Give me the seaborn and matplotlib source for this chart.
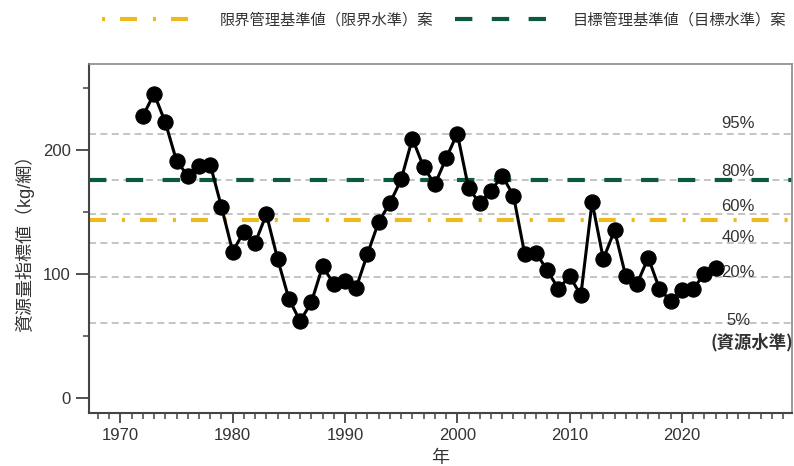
import numpy as np
import pandas as pd
import matplotlib.pyplot as plt
from matplotlib.lines import Line2D
from matplotlib.ticker import MultipleLocator
import seaborn as sns

years = list(range(1972, 2024))
index_values = [227, 245, 222, 191, 179, 187, 188, 154, 118, 134,
                125, 148, 112, 80, 62, 77, 106, 92, 94, 89,
                116, 142, 157, 176, 209, 186, 172, 193, 213, 169,
                157, 167, 179, 163, 116, 117, 103, 88, 98, 83,
                158, 112, 135, 98, 92, 113, 88, 78, 87, 88,
                100, 105]

pct_labels = ['95%', '80%', '60%', '40%', '20%', '5%']
pct_levels = [212.6, 175.3, 148.1, 124.7, 97.3, 60.2]
limit_level = 143.0
target_level = 175.3
limit_label = '限界管理基準値（限界水準）案'
target_label = '目標管理基準値（目標水準）案'

YELLOW = '#EDB91C'
GREEN = '#0B5A3F'
GRAY_TXT = '#333333'

sns.set_theme(style='white')
plt.rcParams['font.family'] = ['Liberation Sans', 'Noto Sans CJK JP', 'DejaVu Sans']
plt.rcParams['lines.scale_dashes'] = False

df = pd.DataFrame({'year': years, 'value': index_values})

fig = plt.figure(figsize=(7.94, 4.66), dpi=100)
ax = fig.add_axes([0.112, 0.1137, 0.8855, 0.749])

for lv in pct_levels:
    ax.axhline(lv, color='#C4C4C4', lw=1.4, dashes=(5, 3.2), zorder=1)
ax.axhline(limit_level, color=YELLOW, lw=3, dashes=(12.2, 11.5, 2.2, 10.8), zorder=2)
ax.axhline(target_level, color=GREEN, lw=3, dashes=(12.5, 14), zorder=2)

sns.lineplot(data=df, x='year', y='value', ax=ax, color='black', lw=2.2,
             marker='o', markersize=11, markeredgecolor='black', zorder=3)

for lab, lv in zip(pct_labels, pct_levels):
    ax.text(2025, lv * 1.04, lab, ha='center', va='center', fontsize=12, color=GRAY_TXT)
ax.text(2026.2, 44.6, '(資源水準)', ha='center', va='center', fontsize=12.5,
        fontweight='bold', color=GRAY_TXT, family=['Noto Sans CJK JP', 'DejaVu Sans'])

ax.set_xlim(1967.2, 2029.8)
ax.set_ylim(-12, 269)
ax.set_yticks([0, 100, 200])
ax.yaxis.set_minor_locator(MultipleLocator(50))
ax.set_xticks(range(1970, 2030, 10))
ax.xaxis.set_minor_locator(MultipleLocator(1))
ax.tick_params(axis='both', which='major', labelsize=12, labelcolor=GRAY_TXT,
               color='#444444', width=1.3, direction='out')
ax.tick_params(axis='y', which='major', length=9.5, left=True)
ax.tick_params(axis='x', which='major', length=7.5, bottom=True)
ax.tick_params(axis='both', which='minor', length=4, width=1.1, color='#444444',
               left=True, bottom=True)

for side in ['left', 'bottom']:
    ax.spines[side].set_color('#444444')
    ax.spines[side].set_linewidth(1.5)
for side in ['top', 'right']:
    ax.spines[side].set_color('#8A8A8A')
    ax.spines[side].set_linewidth(1.2)

ax.set_xlabel('年', fontsize=13, color=GRAY_TXT, labelpad=5)
ax.set_ylabel('資源量指標値（kg/網）', fontsize=13, color=GRAY_TXT, labelpad=6)

handles = [Line2D([], [], color=YELLOW, lw=3, dashes=(2.2, 10.8, 12.2, 11.5)),
           Line2D([], [], color=GREEN, lw=3, dashes=(12.5, 14))]
fig.legend(handles, [limit_label, target_label], loc='center', ncol=2,
           bbox_to_anchor=(0.559, 0.957), frameon=False, fontsize=11,
           handlelength=6, handletextpad=1.7, columnspacing=1.4,
           labelcolor=GRAY_TXT)

fig.savefig('out.png', dpi=100)
